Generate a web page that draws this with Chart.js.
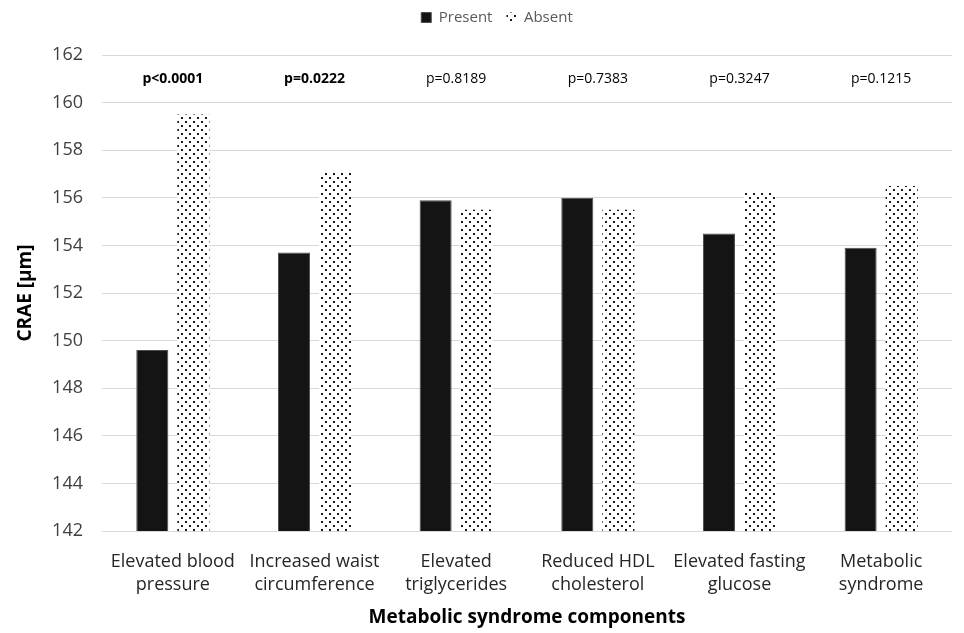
<!DOCTYPE html>
<html>
<head>
<meta charset="utf-8">
<script src="https://cdn.jsdelivr.net/npm/chart.js@4.4.1/dist/chart.umd.min.js"></script>
<style>
  html, body { margin: 0; padding: 0; background: #fff; }
  #wrap { width: 964px; height: 633px; }
</style>
</head>
<body>
<div id="wrap"><canvas id="bar-chart" width="964" height="633"></canvas></div>
<script>
// data
var categories = [
    ["Elevated blood", "pressure"],
    ["Increased waist", "circumference"],
    ["Elevated", "triglycerides"],
    ["Reduced HDL", "cholesterol"],
    ["Elevated fasting", "glucose"],
    ["Metabolic", "syndrome"]
];
var present = [149.6, 153.7, 155.9, 156.0, 154.5, 153.9];
var absent = [159.5, 157.1, 155.5, 155.5, 156.2, 156.5];
var pValues = ["p<0.0001", "p=0.0222", "p=0.8189", "p=0.7383", "p=0.3247", "p=0.1215"];
var pBold = [true, true, false, false, false, false];
var yTicks = [142, 144, 146, 148, 150, 152, 154, 156, 158, 160, 162];

var FONT = "'Open Sans', 'Liberation Sans', sans-serif";

// dotted fill for the "Absent" bars
function dotPattern() {
    var c = document.createElement('canvas');
    c.width = 8;
    c.height = 8;
    var g = c.getContext('2d');
    g.fillStyle = '#fff';
    g.fillRect(0, 0, 8, 8);
    g.fillStyle = '#1a1a1a';
    g.fillRect(1, 1, 2, 2);
    g.fillRect(5, 5, 2, 2);
    return g.createPattern(c, 'repeat');
}

// p-value labels above each group
var pLabels = {
    id: 'pLabels',
    afterDatasetsDraw: function(chart) {
        var ctx = chart.ctx;
        var x = chart.scales.x, y = chart.scales.y;
        ctx.save();
        ctx.textAlign = 'center';
        ctx.textBaseline = 'middle';
        ctx.fillStyle = '#000';
        pValues.forEach(function(t, i) {
            ctx.font = (pBold[i] ? 'bold ' : '') + '14px ' + FONT;
            ctx.fillText(t, x.getPixelForValue(i), y.getPixelForValue(161.0));
        });
        ctx.restore();
    }
};

// leave room under the legend and nudge it like the original
var legendGap = {
    id: 'legendGap',
    beforeInit: function(chart) {
        var lg = chart.legend;
        var fit = lg.fit;
        lg.fit = function() {
            fit.bind(lg)();
            this.height = 53;
        };
        var draw = lg.draw;
        lg.draw = function() {
            var c = chart.ctx;
            c.save();
            c.translate(21, -6);
            draw.apply(lg, arguments);
            c.restore();
        };
    }
};

var ctx = document.getElementById('bar-chart').getContext('2d');
new Chart(ctx, {
    type: 'bar',
    data: {
        labels: categories,
        datasets: [{
            label: 'Present',
            data: present,
            backgroundColor: '#141414',
            borderColor: '#4d4d4d',
            borderWidth: 1
        }, {
            label: 'Absent',
            data: absent,
            backgroundColor: dotPattern(),
            borderWidth: 0
        }]
    },
    options: {
        responsive: false,
        animation: false,
        categoryPercentage: 0.58,
        barPercentage: 0.78,
        layout: { padding: { top: 2, right: 12, bottom: 0, left: 0 } },
        plugins: {
            legend: {
                position: 'top',
                labels: {
                    boxWidth: 10,
                    boxHeight: 10,
                    padding: 14,
                    color: '#595959',
                    font: { family: FONT, size: 15 }
                }
            },
            tooltip: { enabled: false }
        },
        scales: {
            x: {
                grid: { display: false },
                border: { display: false },
                ticks: {
                    color: '#262626',
                    padding: 11,
                    maxRotation: 0,
                    autoSkip: false,
                    font: { family: FONT, size: 18, lineHeight: 1.28 }
                },
                title: {
                    display: true,
                    text: 'Metabolic syndrome components',
                    color: '#000',
                    padding: { top: 4, bottom: 4 },
                    font: { family: FONT, size: 19, weight: 'bold' }
                },
                afterFit: function(s) { s.height = 102; }
            },
            y: {
                min: 142,
                max: 162,
                afterBuildTicks: function(s) {
                    s.ticks = yTicks.map(function(v) { return { value: v }; });
                },
                grid: { color: '#d9d9d9', drawTicks: false },
                border: { display: false },
                ticks: {
                    color: '#404040',
                    padding: 19,
                    font: { family: FONT, size: 18 }
                },
                title: {
                    display: true,
                    text: 'CRAE [µm]',
                    color: '#000',
                    padding: { top: 14, bottom: 0 },
                    font: { family: FONT, size: 19, weight: 'bold' }
                },
                afterFit: function(s) { s.width = 102; }
            }
        }
    },
    plugins: [pLabels, legendGap]
});
</script>
</body>
</html>
